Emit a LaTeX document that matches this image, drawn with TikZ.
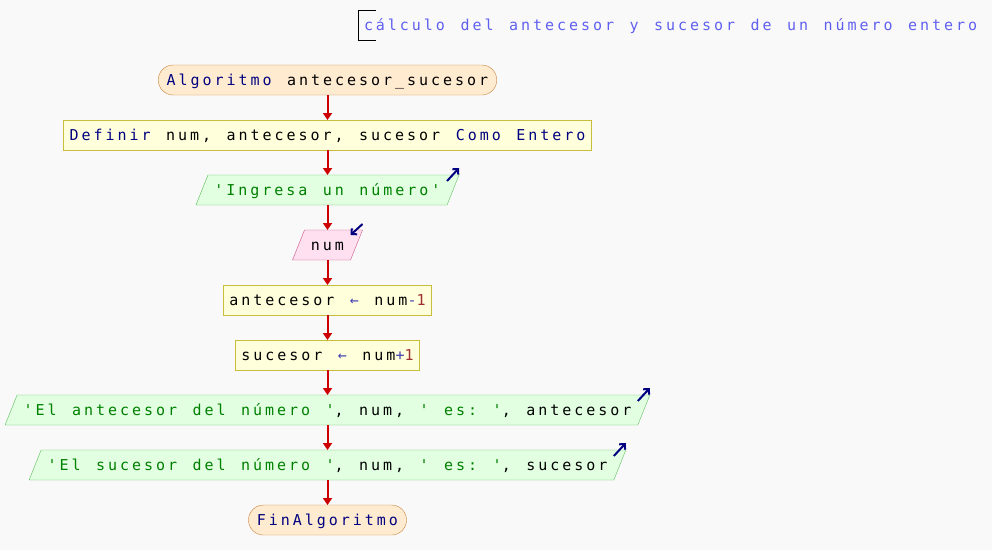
\documentclass[tikz,border=0pt]{standalone}
\usepackage{fontspec}
\setmonofont{DejaVu Sans Mono}[LetterSpace=19.8,WordSpace={1.29,0,0}]
\usetikzlibrary{arrows.meta,shapes.geometric,positioning,calc}

\definecolor{fondo}{RGB}{249,249,249}
\definecolor{flecha}{RGB}{204,0,0}
\definecolor{azul}{RGB}{0,0,128}
\definecolor{clave}{RGB}{0,0,128}
\definecolor{cadena}{RGB}{0,128,0}
\definecolor{numero}{RGB}{160,48,48}
\definecolor{operador}{RGB}{64,64,176}
\definecolor{comentario}{RGB}{96,96,240}
\definecolor{rellenoTerm}{RGB}{255,236,208}
\definecolor{bordeTerm}{RGB}{200,130,60}
\definecolor{rellenoProc}{RGB}{255,255,220}
\definecolor{bordeProc}{RGB}{200,190,60}
\definecolor{rellenoSal}{RGB}{226,255,226}
\definecolor{bordeSal}{RGB}{90,190,90}
\definecolor{rellenoEnt}{RGB}{255,224,240}
\definecolor{bordeEnt}{RGB}{200,80,130}

\newcommand{\kw}[1]{\textcolor{clave}{#1}}
\newcommand{\cad}[1]{\textcolor{cadena}{#1}}
\newcommand{\nro}[1]{\textcolor{numero}{#1}}
\newcommand{\op}[1]{\textcolor{operador}{#1}}

\begin{document}
\begin{tikzpicture}[x=1pt,y=1pt,node distance=25pt,
    every node/.style={font=\ttfamily\fontsize{15}{18}\selectfont,text height=11.5pt,text depth=1.5pt,inner ysep=8.5pt,inner xsep=6pt,outer sep=0pt},
    terminal/.style={rectangle,rounded corners=15pt,draw=bordeTerm,fill=rellenoTerm,inner xsep=8.5pt},
    proceso/.style={rectangle,draw=bordeProc,fill=rellenoProc},
    salida/.style={trapezium,trapezium left angle=68.2,trapezium right angle=111.8,draw=bordeSal,fill=rellenoSal,inner xsep=6.5pt},
    entrada/.style={salida,draw=bordeEnt,fill=rellenoEnt},
    flujo/.style={-{Triangle[width=9pt,length=7pt]},line width=2pt,flecha},
    es/.style={-{Straight Barb[length=4pt,width=8pt]},line width=2pt,azul}]
    \fill[fondo] (0,0) rectangle (992,-550);
    \useasboundingbox (0,0) rectangle (992,-550);

    % --- Comentario ---
    \node[anchor=west,text=comentario] (coment) at (358,-25) {cálculo del antecesor y sucesor de un número entero};
    \draw ($(coment.north west)+(18,0)$) -- (coment.north west) -- (coment.south west) -- ($(coment.south west)+(18,0)$);

    % --- Bloques ---
    \node[terminal] (inicio) at (327.5,-80) {\kw{Algoritmo} antecesor\_sucesor};
    \node[proceso,below=of inicio] (definir) {\kw{Definir} num, antecesor, sucesor \kw{Como Entero}};
    \node[salida,below=of definir] (leyenda) {\cad{'Ingresa un número'}};
    \node[entrada,below=of leyenda] (leer) {num};
    \node[proceso,below=of leer] (resta) {antecesor \op{←} num\op{-}\nro{1}};
    \node[proceso,below=of resta] (suma) {sucesor \op{←} num\op{+}\nro{1}};
    \node[salida,below=of suma] (muestraA) {\cad{'El antecesor del número '}, num, \cad{' es: '}, antecesor};
    \node[salida,below=of muestraA] (muestraS) {\cad{'El sucesor del número '}, num, \cad{' es: '}, sucesor};
    \node[terminal,below=of muestraS] (fin) {\kw{FinAlgoritmo}};

    % Flujo
    \foreach \a/\b in {inicio/definir,definir/leyenda,leyenda/leer,leer/resta,resta/suma,suma/muestraA,muestraA/muestraS,muestraS/fin}
        \draw[flujo] (\a.south) -- (\b.north);

    % Entrada / salida
    \foreach \n in {leyenda,muestraA,muestraS}
        \draw[es] ($(\n.top right corner)+(-12,-6)$) -- ($(\n.top right corner)+(0,7)$);
    \draw[es] ($(leer.top right corner)+(0,6)$) -- ($(leer.top right corner)+(-12,-5)$);

\end{tikzpicture}
\end{document}
